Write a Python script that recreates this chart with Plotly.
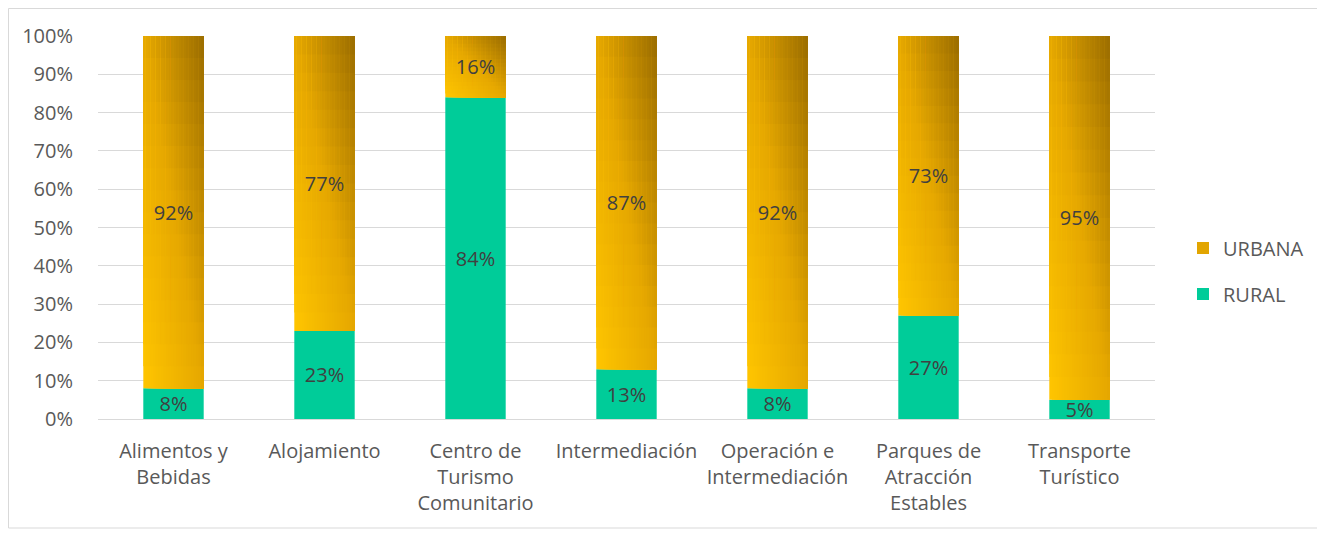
import plotly.graph_objects as go

categories = ["Alimentos y<br>Bebidas", "Alojamiento", "Centro de<br>Turismo<br>Comunitario",
              "Intermediación", "Operación e<br>Intermediación", "Parques de<br>Atracción<br>Estables",
              "Transporte<br>Turístico"]
rural = [8, 23, 84, 13, 8, 27, 5]
urbana = [92, 77, 16, 87, 92, 73, 95]
y_ticks = [0, 10, 20, 30, 40, 50, 60, 70, 80, 90, 100]
y_tick_text = [f"{v}%" for v in y_ticks]

# figure sits at (8, 8) in the page because of the default body margin
W, H = 1317, 526
ML, MR, MT, MB = 90, 170, 28, 115
FONT = "Open Sans, Lato, sans-serif"
FS = 20
BAR_W = 0.4
NX, NY = 24, 16                      # gradient resolution of the URBANA fill
GOLD_LIGHT = (0xFF, 0xC6, 0x00)      # bottom-left
GOLD_MID = (0xE6, 0xA8, 0x00)
GOLD_DARK = (0x9A, 0x6C, 0x00)       # top-right


def lerp(a, b, t):
    return tuple(round(x + (y - x) * t) for x, y in zip(a, b))


def gold(s):
    if s < 0.5:
        return lerp(GOLD_LIGHT, GOLD_MID, s / 0.5)
    return lerp(GOLD_MID, GOLD_DARK, (s - 0.5) / 0.5)


fig = go.Figure()
fig.add_trace(go.Bar(
    x=categories, y=rural, name="RURAL", legendgroup="rural", legendrank=2,
    width=BAR_W, marker=dict(color="#00CC99", line=dict(width=0)),
    texttemplate="%{y:.0f}%", textposition="inside", insidetextanchor="middle",
    textfont=dict(color="#404040", size=FS, family=FONT),
))

step = BAR_W / NX
for i in range(NX):
    for k in range(NY):
        u = (i + 0.5) / NX
        v = (k + 0.5) / NY
        c = gold((u + v) / 2)
        frac = k / NY
        fig.add_trace(go.Bar(
            x=categories,
            y=[uv * (1 - frac) for uv in urbana],
            base=[r + uv * frac for r, uv in zip(rural, urbana)],
            name="URBANA", legendgroup="urbana", legendrank=1,
            showlegend=(i == NX // 2 and k == NY // 2), hoverinfo="skip",
            width=BAR_W - i * step, offset=-BAR_W / 2 + i * step,
            marker=dict(color="rgb(%d,%d,%d)" % c, line=dict(width=0)),
        ))

fig.add_trace(go.Bar(
    x=categories, y=urbana, base=rural, name="URBANA", showlegend=False,
    width=BAR_W, marker=dict(color="rgba(0,0,0,0)", line=dict(width=0)),
    texttemplate="%{y:.0f}%", textposition="inside", insidetextanchor="middle",
    textfont=dict(color="#404040", size=FS, family=FONT),
))

pw = W - ML - MR
ph = H - MT - MB
fig.add_shape(type="rect", xref="paper", yref="paper",
              x0=(0.5 - ML) / pw, x1=(1310 - ML) / pw,
              y0=-(520 - MT - ph) / ph, y1=1 + (MT - 0.5) / ph,
              line=dict(color="#D9D9D9", width=1), fillcolor="rgba(0,0,0,0)", layer="below")

fig.update_layout(
    width=W, height=H,
    margin=dict(l=ML, r=MR, t=MT, b=MB),
    barmode="overlay",
    plot_bgcolor="white", paper_bgcolor="white",
    font=dict(family=FONT, color="#595959", size=FS),
    uniformtext=dict(mode="show", minsize=FS),
    legend=dict(x=(1175 - ML) / pw, y=(411 - 263) / ph, xanchor="left", yanchor="middle",
                traceorder="grouped", font=dict(size=FS, color="#595959"),
                tracegroupgap=17, itemwidth=30),
    showlegend=True,
)
fig.update_xaxes(showgrid=False, showline=True, linecolor="#D9D9D9", linewidth=1,
                 ticks="outside", ticklen=14, tickcolor="rgba(0,0,0,0)",
                 tickfont=dict(size=FS, color="#595959"))
fig.update_yaxes(range=[0, 100], tickvals=y_ticks, ticktext=y_tick_text,
                 showgrid=True, gridcolor="#D9D9D9", gridwidth=1, zeroline=False,
                 ticks="outside", ticklen=20, tickcolor="rgba(0,0,0,0)",
                 tickfont=dict(size=FS, color="#595959"))

fig.write_html("out.html")
